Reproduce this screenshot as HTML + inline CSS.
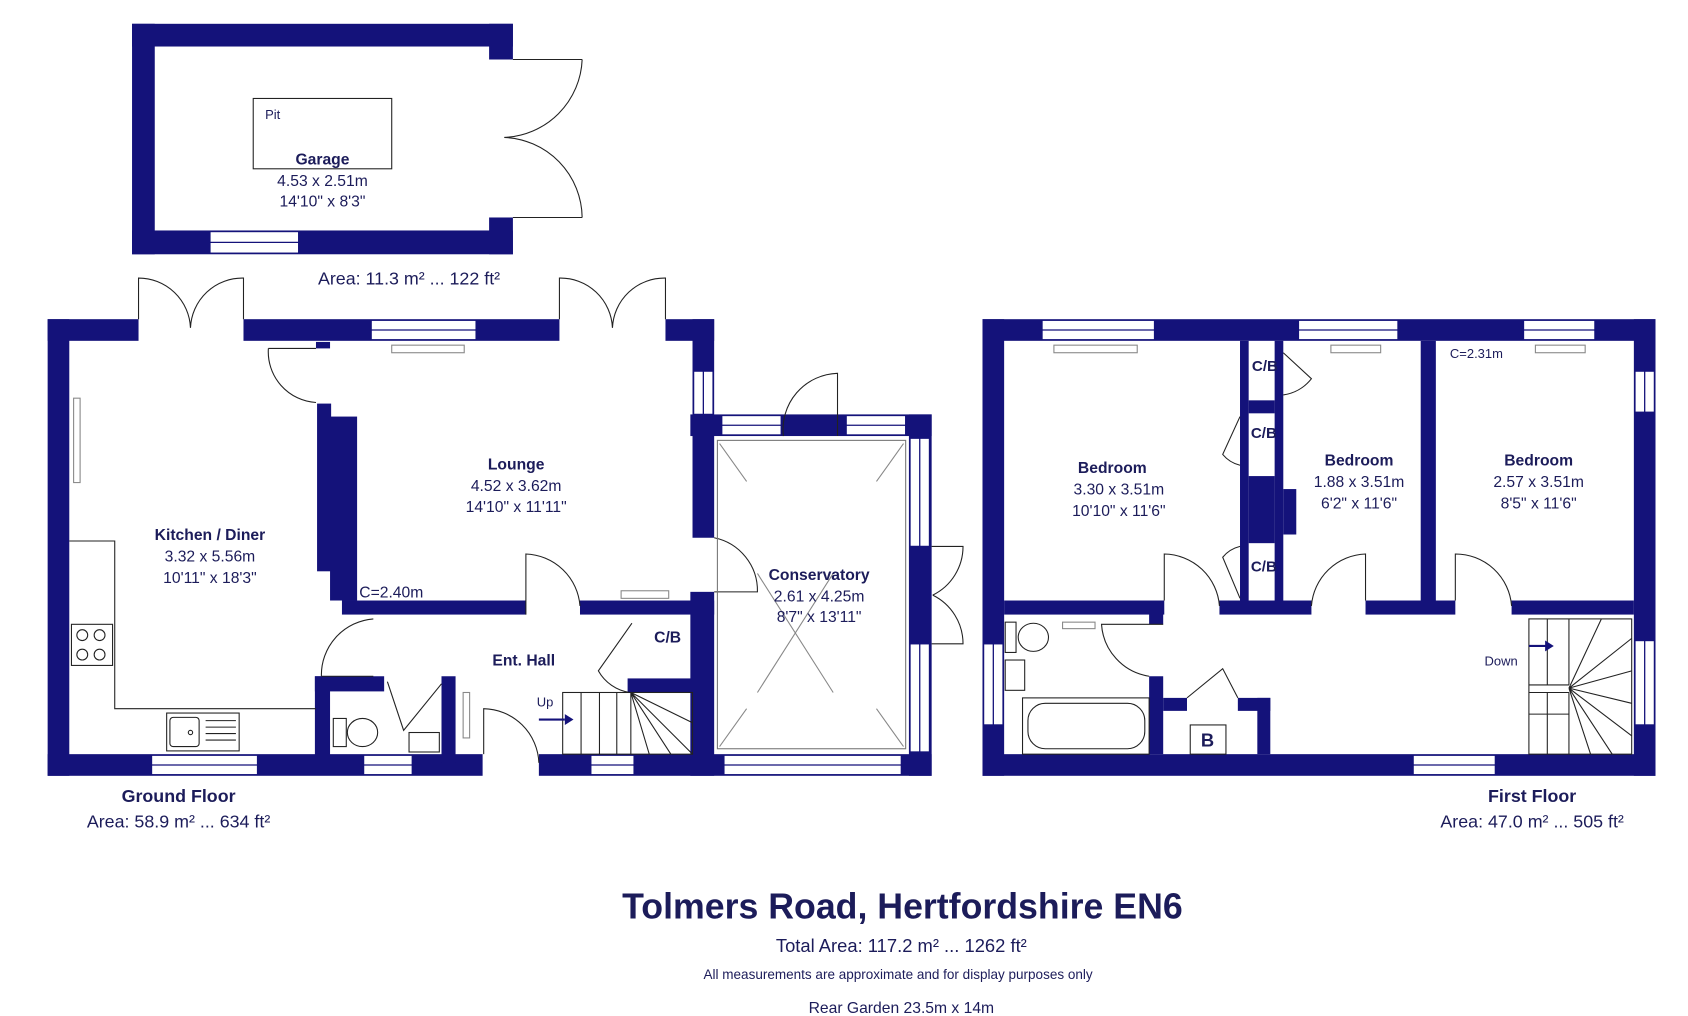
<!DOCTYPE html>
<html><head><meta charset="utf-8"><style>
html,body{margin:0;padding:0;background:#fff}
svg{display:block}
text{font-family:"Liberation Sans",Arial,sans-serif;fill:#1c1c5a}
.b{font-weight:bold}
</style></head><body>
<svg width="1688" height="1016" viewBox="0 0 1560 939" xmlns="http://www.w3.org/2000/svg">
<g fill="#14127a" stroke="none">
<rect x="122" y="22" width="352" height="21"/>
<rect x="122" y="22" width="21" height="213"/>
<rect x="122" y="213" width="352" height="22"/>
<rect x="452" y="22" width="22" height="33"/>
<rect x="452" y="201" width="22" height="34"/>
<rect x="44" y="295" width="20" height="422"/>
<rect x="44" y="295" width="84" height="20"/>
<rect x="225" y="295" width="292" height="20"/>
<rect x="615" y="295" width="45" height="20"/>
<rect x="640" y="295" width="20" height="202"/>
<rect x="638" y="547" width="22" height="170"/>
<rect x="44" y="697" width="402" height="20"/>
<rect x="498" y="697" width="363" height="20"/>
<rect x="638" y="383" width="223" height="20"/>
<rect x="840" y="383" width="21" height="334"/>
<rect x="292" y="316" width="13" height="6"/>
<rect x="293" y="373" width="13" height="155"/>
<rect x="305" y="385" width="25" height="170"/>
<rect x="316" y="555" width="170" height="13"/>
<rect x="536" y="555" width="124" height="13"/>
<rect x="291" y="625" width="64" height="14"/>
<rect x="291" y="625" width="14" height="80"/>
<rect x="408" y="625" width="13" height="80"/>
<rect x="580" y="627" width="60" height="13"/>
<rect x="908" y="295" width="622" height="20"/>
<rect x="908" y="295" width="20" height="422"/>
<rect x="1510" y="295" width="20" height="422"/>
<rect x="908" y="697" width="622" height="20"/>
<rect x="1146" y="315" width="8" height="242"/>
<rect x="1178" y="315" width="8" height="242"/>
<rect x="1154" y="370" width="24" height="12"/>
<rect x="1154" y="440" width="24" height="62"/>
<rect x="1186" y="452" width="12" height="42"/>
<rect x="1313" y="315" width="14" height="242"/>
<rect x="928" y="555" width="148" height="13"/>
<rect x="1127" y="555" width="85" height="13"/>
<rect x="1262" y="555" width="83" height="13"/>
<rect x="1397" y="555" width="113" height="13"/>
<rect x="1062" y="567" width="13" height="10"/>
<rect x="1062" y="625" width="13" height="72"/>
<rect x="1075" y="645" width="22" height="12"/>
<rect x="1144" y="645" width="30" height="12"/>
<rect x="1162" y="645" width="12" height="52"/>
</g>
<g fill="#fff" stroke="#14127a" stroke-width="1.2">
<rect x="194" y="214" width="82" height="20"/><line x1="194" y1="224" x2="276" y2="224"/>
<rect x="343" y="296" width="97" height="18"/><line x1="343" y1="305" x2="440" y2="305"/>
<rect x="641" y="343" width="18" height="40"/><line x1="650" y1="343" x2="650" y2="383"/>
<rect x="667" y="384" width="55" height="18"/><line x1="667" y1="393" x2="722" y2="393"/>
<rect x="782" y="384" width="55" height="18"/><line x1="782" y1="393" x2="837" y2="393"/>
<rect x="841" y="405" width="18" height="100"/><line x1="850" y1="405" x2="850" y2="505"/>
<rect x="841" y="595" width="18" height="100"/><line x1="850" y1="595" x2="850" y2="695"/>
<rect x="669" y="698" width="164" height="18"/><line x1="669" y1="707" x2="833" y2="707"/>
<rect x="140" y="698" width="98" height="18"/><line x1="140" y1="707" x2="238" y2="707"/>
<rect x="336" y="698" width="45" height="18"/><line x1="336" y1="707" x2="381" y2="707"/>
<rect x="546" y="698" width="40" height="18"/><line x1="546" y1="707" x2="586" y2="707"/>
<rect x="963" y="296" width="104" height="18"/><line x1="963" y1="305" x2="1067" y2="305"/>
<rect x="1200" y="296" width="92" height="18"/><line x1="1200" y1="305" x2="1292" y2="305"/>
<rect x="1408" y="296" width="66" height="18"/><line x1="1408" y1="305" x2="1474" y2="305"/>
<rect x="1511" y="343" width="18" height="38"/><line x1="1520" y1="343" x2="1520" y2="381"/>
<rect x="1511" y="592" width="18" height="78"/><line x1="1520" y1="592" x2="1520" y2="670"/>
<rect x="909" y="595" width="18" height="75"/><line x1="918" y1="595" x2="918" y2="670"/>
<rect x="1306" y="698" width="76" height="18"/><line x1="1306" y1="707" x2="1382" y2="707"/>
</g>
<g fill="none" stroke="#222" stroke-width="1">
<rect x="234" y="91" width="128" height="65"/>
<line x1="474" y1="55" x2="538" y2="55"/><line x1="474" y1="201" x2="538" y2="201"/>
<path d="M538 55 A75 75 0 0 1 466 127 M538 201 A75 75 0 0 0 466 127"/>
<path d="M128 295 V257 A48 48 0 0 1 176 303 M225 295 V257 A48 48 0 0 0 176 303"/>
<path d="M517 295 V257 A48 48 0 0 1 566 303 M615 295 V257 A48 48 0 0 0 566 303"/>
<path d="M248 322 H292 M248 322 A47 47 0 0 0 292 372"/>
<path d="M774 403 V345 A52 52 0 0 0 724 403"/>
<path d="M861 505 H890 A50 50 0 0 1 862 550 M861 595 H890 A50 50 0 0 0 862 550"/>
<path d="M660 497 A50 50 0 0 1 700 547 H660"/>
<rect x="663" y="407" width="174" height="285" stroke="#777"/>
<path d="M665 410 L690 445 M835 410 L810 445 M665 690 L690 655 M835 690 L810 655 M770 530 L700 640 M700 530 L770 640" stroke="#888"/>
<path d="M486 568 V512 A52 52 0 0 1 536 560"/>
<path d="M297 625 H345 M297 625 A52 52 0 0 1 345 572"/>
<path d="M447 697 V655 A52 52 0 0 1 498 705"/>
<path d="M584 576 L553 620 A40 40 0 0 0 582 640"/>
<path d="M408 632 L373 675 L358 630"/>
<rect x="520" y="640" width="120" height="57"/>
<path d="M537 640 V697 M554 640 V697 M570 640 V697 M583 640 V697 M583 640 L640 668 M583 640 L640 697 M583 640 L620 697 M583 640 L600 697"/>
<path d="M64 500 H106 V655 H292"/>
<rect x="66" y="577" width="38" height="38"/>
<circle cx="76" cy="587" r="5"/><circle cx="92" cy="587" r="5"/><circle cx="76" cy="605" r="5"/><circle cx="92" cy="605" r="5"/>
<rect x="154" y="659" width="67" height="35"/><rect x="157" y="663" width="27" height="27" rx="3"/><circle cx="176" cy="677" r="2"/>
<path d="M190 666 H218 M190 672 H218 M190 678 H218 M190 684 H218"/>
<rect x="308" y="664" width="12" height="26"/><ellipse cx="335" cy="677" rx="14" ry="13"/>
<rect x="378" y="677" width="28" height="18"/>
<rect x="428" y="640" width="6" height="42" stroke="#888"/>
<rect x="362" y="319" width="67" height="7" stroke="#888"/>
<rect x="574" y="546" width="44" height="7" stroke="#888"/>
<rect x="68" y="368" width="6" height="78" stroke="#888"/>
<rect x="974" y="319" width="77" height="7" stroke="#888"/>
<rect x="1230" y="319" width="46" height="7" stroke="#888"/>
<rect x="1419" y="319" width="46" height="7" stroke="#888"/>
<rect x="982" y="575" width="30" height="6" stroke="#888"/>
<path d="M1186 326 L1212 350 A40 40 0 0 1 1186 365"/>
<path d="M1146 385 L1130 420 A30 30 0 0 0 1146 430"/>
<path d="M1146 505 A30 30 0 0 0 1130 515 L1146 553"/>
<path d="M1076 555 V512 A52 52 0 0 1 1127 560"/>
<path d="M1262 555 V512 A52 52 0 0 0 1212 560"/>
<path d="M1345 555 V512 A52 52 0 0 1 1397 560"/>
<path d="M1075 577 H1018 A52 52 0 0 0 1062 625"/>
<path d="M1097 645 L1130 618 L1144 645"/>
<rect x="1100" y="670" width="33" height="27"/>
<rect x="929" y="575" width="10" height="28"/><ellipse cx="955" cy="589" rx="14" ry="13"/>
<rect x="929" y="610" width="18" height="28"/>
<rect x="945" y="645" width="117" height="52"/><rect x="950" y="650" width="108" height="42" rx="16"/>
<rect x="1413" y="572" width="95" height="125"/>
<path d="M1413 633 H1450 M1413 640 H1450 M1450 572 V633 M1430 572 V633 M1413 660 H1450 M1430 640 V697 M1450 640 V697 M1450 636 L1508 590 M1450 636 L1508 620 M1450 636 L1508 650 M1450 636 L1508 680 M1450 636 L1490 697 M1450 636 L1470 697 M1450 636 L1480 572"/>
</g>
<path d="M1413 597 H1430 M498 665 H522" stroke="#14127a" stroke-width="2"/>
<polygon points="1436,597 1428,592 1428,602" fill="#14127a"/>
<polygon points="530,665 522,660 522,670" fill="#14127a"/>
<text x="245" y="110" font-size="12">Pit</text>
<g text-anchor="middle" font-size="14.5">
<text x="298" y="152" class="b">Garage</text>
<text x="298" y="172">4.53 x 2.51m</text>
<text x="298" y="191">14'10" x 8'3"</text>
<text x="378" y="263" font-size="16.5">Area: 11.3 m² ... 122 ft²</text>
<text x="194" y="499" class="b">Kitchen / Diner</text>
<text x="194" y="519">3.32 x 5.56m</text>
<text x="194" y="539">10'11" x 18'3"</text>
<text x="477" y="434" class="b">Lounge</text>
<text x="477" y="454">4.52 x 3.62m</text>
<text x="477" y="473">14'10" x 11'11"</text>
<text x="484" y="615" class="b">Ent. Hall</text>
<text x="617" y="594" class="b">C/B</text>
<text x="757" y="536" class="b">Conservatory</text>
<text x="757" y="556">2.61 x 4.25m</text>
<text x="757" y="575">8'7" x 13'11"</text>
<text x="165" y="741" class="b" font-size="16.5">Ground Floor</text>
<text x="165" y="765" font-size="16.5">Area: 58.9 m² ... 634 ft²</text>
<text x="1028" y="437" class="b">Bedroom</text>
<text x="1034" y="457">3.30 x 3.51m</text>
<text x="1034" y="477">10'10" x 11'6"</text>
<text x="1256" y="430" class="b">Bedroom</text>
<text x="1256" y="450">1.88 x 3.51m</text>
<text x="1256" y="470">6'2" x 11'6"</text>
<text x="1422" y="430" class="b">Bedroom</text>
<text x="1422" y="450">2.57 x 3.51m</text>
<text x="1422" y="470">8'5" x 11'6"</text>
<text x="1416" y="741" class="b" font-size="16.5">First Floor</text>
<text x="1416" y="765" font-size="16.5">Area: 47.0 m² ... 505 ft²</text>
<text x="1116" y="690" class="b" font-size="17">B</text>
<text x="834" y="849" class="b" font-size="33">Tolmers Road, Hertfordshire EN6</text>
<text x="833" y="880" font-size="17">Total Area: 117.2 m² ... 1262 ft²</text>
<text x="830" y="905" font-size="12.5">All measurements are approximate and for display purposes only</text>
<text x="833" y="936" font-size="14.5">Rear Garden 23.5m x 14m</text>
</g>
<text x="332" y="552" font-size="14.5">C=2.40m</text>
<text x="496" y="653" font-size="12">Up</text>
<text x="1157" y="343" class="b" font-size="14">C/B</text>
<text x="1156" y="405" class="b" font-size="14">C/B</text>
<text x="1156" y="528" class="b" font-size="14">C/B</text>
<text x="1340" y="331" font-size="12">C=2.31m</text>
<text x="1372" y="615" font-size="12">Down</text>
</svg>
</body></html>
